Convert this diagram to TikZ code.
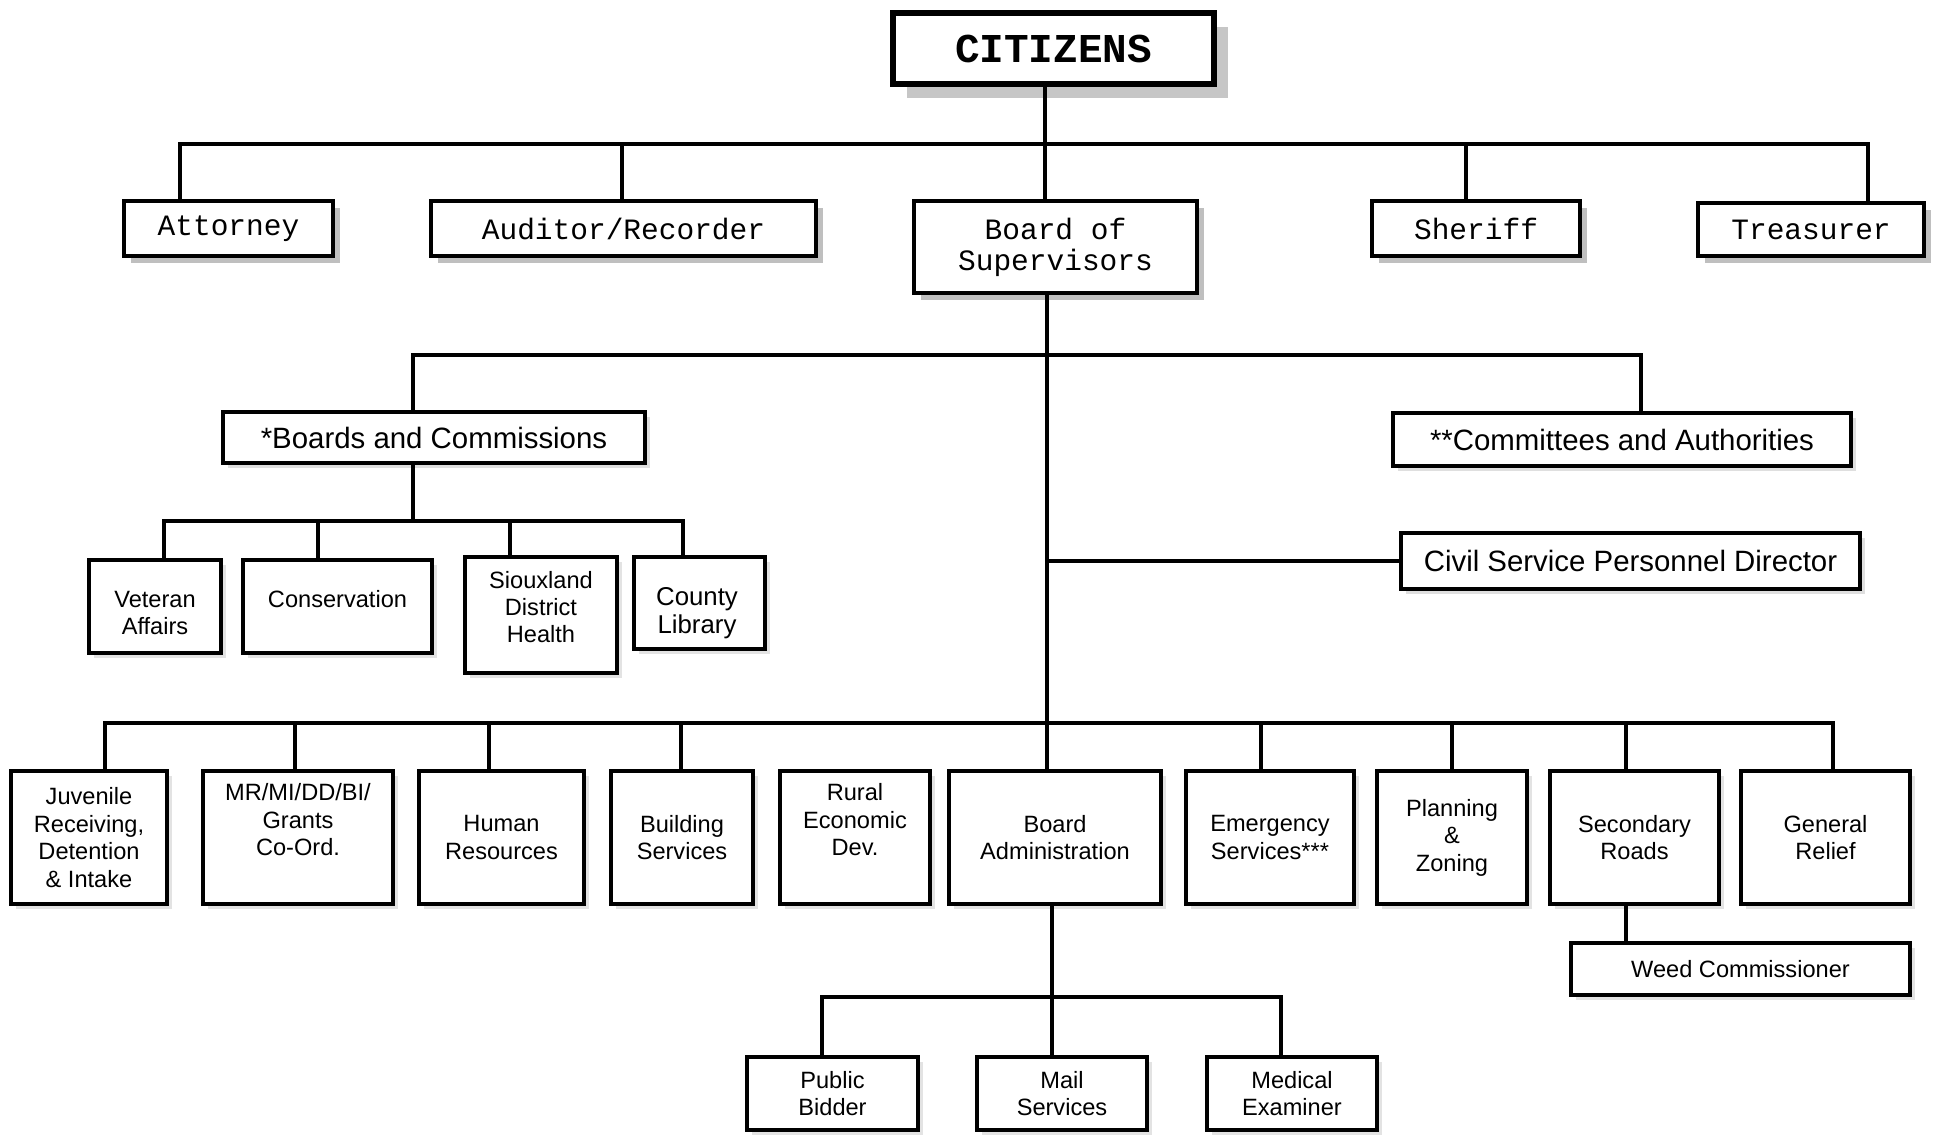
\documentclass[tikz,border=0pt]{standalone}
\usepackage{fontspec}
\setmainfont{Liberation Sans}
\newfontfamily\monofam{Liberation Mono}
\usetikzlibrary{shadows}
\begin{document}
\begin{tikzpicture}[x=1bp,y=-1bp,
  conn/.style={line width=3.2bp, line cap=rect},
  citbox/.style={draw, line width=6bp, fill=white, inner sep=0pt, align=center,
    font=\monofam\bfseries\fontsize{41bp}{44bp}\selectfont,
    drop shadow={shadow xshift=14bp, shadow yshift=-14bp, fill=gray!45, opacity=1}},
  tbox/.style={draw, line width=4bp, fill=white, inner sep=0pt, align=center,
    font=\monofam\fontsize{29.5bp}{31bp}\selectfont,
    drop shadow={shadow xshift=7bp, shadow yshift=-7bp, fill=gray!50, opacity=1}},
  lbox/.style={draw, line width=3.5bp, fill=white, inner sep=0pt, align=center,
    font=\fontsize{29.4bp}{32bp}\selectfont,
    drop shadow={shadow xshift=5bp, shadow yshift=-5bp, fill=gray!25, opacity=1}},
  sbox/.style={draw, line width=3.5bp, fill=white, inner sep=0pt, align=center,
    font=\fontsize{23.6bp}{27.5bp}\selectfont,
    drop shadow={shadow xshift=5bp, shadow yshift=-5bp, fill=gray!22, opacity=1}},
  stext/.style={inner sep=0pt, align=center, font=\fontsize{23.6bp}{27bp}\selectfont}
]
\useasboundingbox[fill=white] (0,0) rectangle (1946,1138);

% top level
\node[citbox, minimum width=321bp, minimum height=71bp] (cit) at (1053.5,48.5) {CITIZENS};

\node[tbox, minimum width=209bp, minimum height=55bp] (att) at (228.5,228.5) {Attorney};
\node[tbox, minimum width=385bp, minimum height=55bp] (aud) at (623.5,228.5) {Auditor/Recorder};
\node[tbox, minimum width=283bp, minimum height=92bp] (bos) at (1055.5,247) {Board of\\Supervisors};
\node[tbox, minimum width=208bp, minimum height=55bp] (she) at (1476,228.5) {Sheriff};
\node[tbox, minimum width=226bp, minimum height=53bp] (tre) at (1811,229.5) {Treasurer};

% second level
\node[lbox, minimum width=422bp, minimum height=51bp] (bc) at (434,437.5) {*Boards and Commissions};
\node[lbox, minimum width=458bp, minimum height=53bp] (ca) at (1622,439.5) {**Committees and Authorities};
\node[lbox, minimum width=459bp, minimum height=56bp] (cspd) at (1630.5,561) {Civil Service Personnel Director};

\node[sbox, minimum width=132bp, minimum height=93bp] (vet) at (155,606.5) {};
\node[stext] (vetT) at (155,613) {Veteran\\Affairs};
\node[sbox, minimum width=189bp, minimum height=93bp] (con) at (337.5,606.5) {};
\node[stext] (conT) at (337.5,599) {Conservation};
\node[sbox, minimum width=152bp, minimum height=116bp] (sio) at (541,615) {};
\node[stext] (sioT) at (541,607) {Siouxland\\District\\Health};
\node[sbox, minimum width=131bp, minimum height=92bp] (lib) at (699.5,603) {};
\node[stext, font=\fontsize{25.8bp}{28.5bp}\selectfont] (libT) at (697,613) {County\\Library};

% bottom row
\node[sbox, minimum width=156bp, minimum height=133bp] (juv) at (89,837.5) {Juvenile\\Receiving,\\Detention\\\& Intake};
\node[sbox, minimum width=190bp, minimum height=133bp] (mr) at (298,837.5) {MR/MI/DD/BI/\\Grants\\Co-Ord.\\\strut};
\node[sbox, minimum width=165bp, minimum height=133bp] (hr) at (501.5,837.5) {Human\\Resources};
\node[sbox, minimum width=142bp, minimum height=133bp] (bs) at (682,837.5) {Building\\Services};
\node[sbox, minimum width=150bp, minimum height=133bp] (red) at (855,837.5) {Rural\\Economic\\Dev.\\\strut};
\node[sbox, minimum width=212bp, minimum height=133bp] (ba) at (1055,837.5) {Board\\Administration};
\node[sbox, minimum width=168bp, minimum height=133bp] (es) at (1270,837.5) {Emergency\\Services***};
\node[sbox, minimum width=150bp, minimum height=133bp] (pz) at (1452,837.5) {Planning\\\&\\Zoning};
\node[sbox, minimum width=169bp, minimum height=133bp] (sr) at (1634.5,837.5) {Secondary\\Roads};
\node[sbox, minimum width=169bp, minimum height=133bp] (gr) at (1825.5,837.5) {General\\Relief};

\node[sbox, minimum width=339bp, minimum height=52bp] (weed) at (1740.5,969) {Weed Commissioner};

\node[sbox, minimum width=171bp, minimum height=73bp] (pb) at (832.5,1093.5) {Public\\Bidder};
\node[sbox, minimum width=170bp, minimum height=73bp] (ms) at (1062,1093.5) {Mail\\Services};
\node[sbox, minimum width=170bp, minimum height=73bp] (me) at (1292,1093.5) {Medical\\Examiner};

% coordinates of bus junctions
\coordinate (attS) at (180,144);
\coordinate (audS) at (622,144);
\coordinate (topM) at (1045,144);
\coordinate (sheS) at (1466,144);
\coordinate (treS) at (1868,144);

\coordinate (bcS) at (413,355);
\coordinate (m1) at (1047,355);
\coordinate (caS) at (1641,355);
\coordinate (m2) at (1047,561);
\coordinate (m3) at (1047,723);

\coordinate (bcD) at (413,521);
\coordinate (vetS) at (164,521);
\coordinate (conS) at (318,521);
\coordinate (sioS) at (510,521);
\coordinate (libS) at (683,521);

\coordinate (juvS) at (105,723);
\coordinate (mrS) at (295,723);
\coordinate (hrS) at (489,723);
\coordinate (bsS) at (681,723);
\coordinate (esS) at (1261,723);
\coordinate (pzS) at (1452,723);
\coordinate (srS) at (1626,723);
\coordinate (grS) at (1833,723);
\coordinate (weedS) at (1626,923);

\coordinate (baD) at (1052,997);
\coordinate (pbS) at (822,997);
\coordinate (meS) at (1281,997);

% connectors: top
\draw[conn] (cit.south -| topM) -- (topM);
\draw[conn] (attS) -- (treS);
\draw[conn] (attS) -- (attS |- att.north);
\draw[conn] (audS) -- (audS |- aud.north);
\draw[conn] (topM) -- (topM |- bos.north);
\draw[conn] (sheS) -- (sheS |- she.north);
\draw[conn] (treS) -- (treS |- tre.north);

% main stem
\draw[conn] (bos.south -| m1) -- (ba.north -| m1);
\draw[conn] (bcS) -- (caS);
\draw[conn] (bcS) -- (bcS |- bc.north);
\draw[conn] (caS) -- (caS |- ca.north);
\draw[conn] (m2) -- (m2 -| cspd.west);

% boards and commissions
\draw[conn] (bc.south -| bcD) -- (bcD);
\draw[conn] (vetS) -- (libS);
\draw[conn] (vetS) -- (vetS |- vet.north);
\draw[conn] (conS) -- (conS |- con.north);
\draw[conn] (sioS) -- (sioS |- sio.north);
\draw[conn] (libS) -- (libS |- lib.north);

% bottom bus
\draw[conn] (juvS) -- (grS);
\draw[conn] (juvS) -- (juvS |- juv.north);
\draw[conn] (mrS) -- (mrS |- mr.north);
\draw[conn] (hrS) -- (hrS |- hr.north);
\draw[conn] (bsS) -- (bsS |- bs.north);
\draw[conn] (esS) -- (esS |- es.north);
\draw[conn] (pzS) -- (pzS |- pz.north);
\draw[conn] (srS) -- (srS |- sr.north);
\draw[conn] (grS) -- (grS |- gr.north);

% weed
\draw[conn] (sr.south -| weedS) -- (weed.north -| weedS);

% board administration
\draw[conn] (ba.south -| baD) -- (baD);
\draw[conn] (pbS) -- (meS);
\draw[conn] (pbS) -- (pbS |- pb.north);
\draw[conn] (baD) -- (baD |- ms.north);
\draw[conn] (meS) -- (meS |- me.north);
\end{tikzpicture}
\end{document}
